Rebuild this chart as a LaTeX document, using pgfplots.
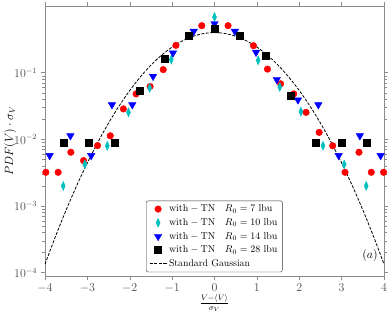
\documentclass[border=0pt]{standalone}
\usepackage{pgfplots}
\pgfplotsset{compat=1.18}
\definecolor{mcyan}{rgb}{0,0.75,0.75}
\begin{document}
\begin{tikzpicture}
\useasboundingbox (-45bp,-40bp) rectangle (346bp,276bp);
\begin{axis}[
  at={(0,0)}, anchor=south west,
  width=339bp, height=270bp, scale only axis,
  ymode=log, xmin=-4, xmax=4, ymin=8.9e-5, ymax=1,
  xtick={-4,-3,-2,-1,0,1,2,3,4},
  ytick={1e-4,1e-3,1e-2,1e-1},
  tick align=outside,
  axis line style={black!45},
  every tick/.style={black!45},
  tick label style={font=\fontsize{12}{14}\selectfont, text=black!70},
  xlabel={$\frac{V-\langle V\rangle}{\sigma_V}$},
  ylabel={$PDF(V)\cdot\sigma_V$},
  label style={font=\fontsize{12}{14}\selectfont},
  xlabel style={at={(axis description cs:0.5,-0.1)}, anchor=center, font=\fontsize{11.5}{13}\selectfont},
  ylabel style={at={(axis description cs:-0.103,0.5)}, anchor=center},
  legend style={at={(0.298,0.279)}, anchor=north west, rounded corners=2pt,
    draw=black!80, fill=white, font=\fontsize{9.8}{11.5}\selectfont, row sep=1.3pt},
  legend cell align=left,
]
\addplot[only marks, mark=*, mark size=3.3bp, color=red] coordinates {
(-3.98,3.2e-3) (-3.69,3.2e-3) (-3.39,6.4e-3) (-3.09,4.8e-3) (-2.76,8.05e-3)
(-2.46,1.13e-2) (-2.15,2.86e-2) (-1.85,4.8e-2) (-1.52,6.2e-2) (-1.21,0.111)
(-0.91,0.257) (-0.30,0.507) (0.32,0.507) (0.92,0.254) (1.25,0.113)
(1.56,0.068) (1.87,0.048) (2.16,0.0254) (2.47,0.0127) (2.79,8.0e-3)
(3.08,3.2e-3) (3.41,6.4e-3) (3.70,3.2e-3) (3.99,3.2e-3)
};
\addlegendentry{$\mathrm{with-TN}\quad R_0=7\ \mathrm{lbu}$}
\addplot[only marks, mark=diamond*, mark size=4.5bp, mark options={xscale=0.6}, color=mcyan] coordinates {
(-3.57,2.0e-3) (-3.06,4.2e-3) (-2.53,8.0e-3) (-2.03,2.54e-2) (-1.53,5.9e-2)
(-1.02,0.157) (0,0.684) (1.03,0.153) (1.54,0.061) (2.04,0.026)
(2.56,8.0e-3) (3.06,4.2e-3) (3.58,2.0e-3)
};
\addlegendentry{$\mathrm{with-TN}\quad R_0=10\ \mathrm{lbu}$}
\addplot[only marks, mark=triangle*, mark size=4.3bp, mark options={rotate=180}, color=blue] coordinates {
(-3.89,5.7e-3) (-3.40,1.13e-2) (-2.91,5.7e-3) (-2.42,3.3e-2) (-1.94,3.3e-2)
(-1.45,8.8e-2) (-0.98,0.197) (-0.49,0.417) (0,0.543) (0.48,0.417)
(0.98,0.202) (1.47,0.0786) (1.97,0.039) (2.45,0.033) (2.93,5.7e-3)
(3.43,1.13e-2) (3.92,5.7e-3)
};
\addlegendentry{$\mathrm{with-TN}\quad R_0=14\ \mathrm{lbu}$}
\addplot[only marks, mark=square*, mark size=3.5bp, color=black] coordinates {
(-3.56,9.0e-3) (-2.97,9.0e-3) (-2.36,9.0e-3) (-1.76,5.4e-2) (-1.18,0.160)
(-0.60,0.363) (0,0.457) (0.60,0.359) (1.21,0.18) (1.79,0.045)
(2.39,9.0e-3) (2.99,9.0e-3) (3.59,9.0e-3)
};
\addlegendentry{$\mathrm{with-TN}\quad R_0=28\ \mathrm{lbu}$}
\addplot[black, line width=0.8pt, dash pattern=on 3pt off 1.5pt, smooth, no marks] coordinates {
(-4,1.338e-4) (-3.75,3.526e-4) (-3.5,8.727e-4) (-3.25,2.029e-3) (-3,4.432e-3)
(-2.75,9.094e-3) (-2.5,1.7528e-2) (-2.25,3.174e-2) (-2,5.399e-2) (-1.75,8.628e-2)
(-1.5,0.12952) (-1.25,0.18265) (-1,0.24197) (-0.75,0.30114) (-0.5,0.35207)
(-0.25,0.38667) (0,0.39894) (0.25,0.38667) (0.5,0.35207) (0.75,0.30114)
(1,0.24197) (1.25,0.18265) (1.5,0.12952) (1.75,8.628e-2) (2,5.399e-2)
(2.25,3.174e-2) (2.5,1.7528e-2) (2.75,9.094e-3) (3,4.432e-3) (3.25,2.029e-3)
(3.5,8.727e-4) (3.75,3.526e-4) (4,1.338e-4)
};
\addlegendentry{Standard Gaussian}
\node[font=\fontsize{12}{14}\selectfont] at (axis cs:3.67,1.78e-4) {$(a)$};
\end{axis}
\end{tikzpicture}
\end{document}
